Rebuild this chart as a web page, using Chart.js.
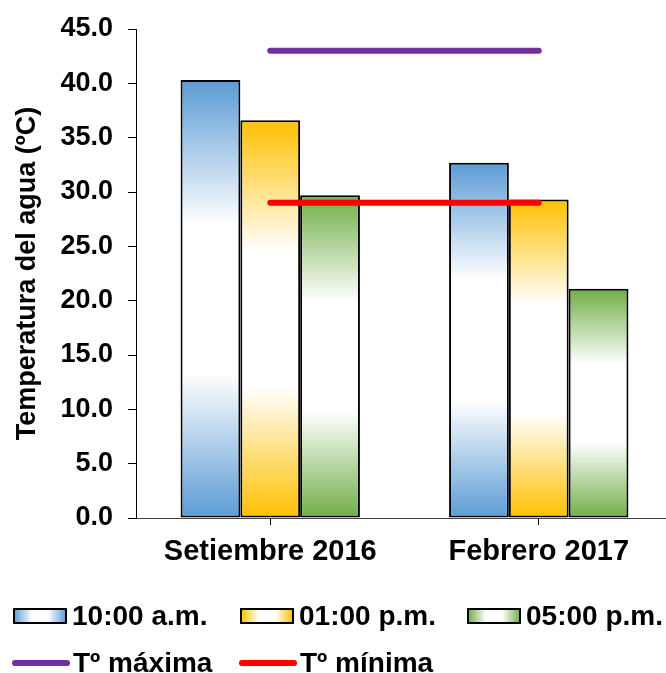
<!DOCTYPE html>
<html>
<head>
<meta charset="utf-8">
<script src="https://cdn.jsdelivr.net/npm/chart.js@4/dist/chart.umd.min.js"></script>
<style>
  html, body { margin: 0; padding: 0; background: #fff; overflow: hidden; }
  #wrap { width: 666px; height: 673px; overflow: hidden; }
  canvas { display: block; }
</style>
</head>
<body>
<div id="wrap"><canvas id="chart" width="673" height="673"></canvas></div>
<script>
// Water temperature by sampling time, with the max / min reference temperatures
const categories = ['Setiembre 2016', 'Febrero 2017'];
const seriesLabels = ['10:00 a.m.', '01:00 p.m.', '05:00 p.m.'];
const temp1000 = [40.3, 32.7];
const temp0100 = [36.6, 29.3];
const temp0500 = [29.7, 21.1];
const lineLabels = ['T\u00ba m\u00e1xima', 'T\u00ba m\u00ednima'];
const tMax = [43.0, 43.0];
const tMin = [29.0, 29.0];
const yMin = 0, yMax = 45, yStep = 5;

const BLUE = '#5b9bd5', ORANGE = '#ffc000', GREEN = '#70ad47';
const PURPLE = '#7030a0', RED = '#ff0000';
const FONT = '"Liberation Sans", Arial, sans-serif';

// vertical gradient per bar: colour at both ends, white band in the middle
function barGradient(color) {
  return (ctx) => {
    const chart = ctx.chart;
    if (!chart.chartArea || ctx.type !== 'data' || !chart.scales.y) return color;
    const y = chart.scales.y;
    const top = y.getPixelForValue(ctx.raw);
    const base = y.getPixelForValue(0);
    if (!isFinite(top) || !isFinite(base) || base - top < 1) return color;
    const g = chart.ctx.createLinearGradient(0, top, 0, base);
    g.addColorStop(0, color);
    g.addColorStop(0.33, '#ffffff');
    g.addColorStop(0.67, '#ffffff');
    g.addColorStop(1, color);
    return g;
  };
}

// two-row legend laid out in columns
const columnLegend = {
  id: 'columnLegend',
  afterDraw(chart) {
    const c = chart.ctx;
    const items = chart.data.datasets;
    const cols = [14, 241, 468];
    c.save();
    c.font = 'bold 28px ' + FONT;
    c.fillStyle = '#000';
    c.textBaseline = 'middle';
    let bi = 0, li = 0;
    items.forEach(ds => {
      if (ds.type === 'line') {
        const x = cols[li] - 1, y = 663;
        c.beginPath();
        c.lineWidth = 6;
        c.lineCap = 'round';
        c.strokeStyle = ds.borderColor;
        c.moveTo(x + 2, y);
        c.lineTo(x + 54, y);
        c.stroke();
        c.fillStyle = '#000';
        c.textAlign = 'left';
        c.fillText(ds.label, x + 60, y + 1);
        li++;
      } else {
        const x = cols[bi], y = 609, w = 52, h = 14;
        const g = c.createLinearGradient(x, 0, x + w, 0);
        g.addColorStop(0, ds.baseColor);
        g.addColorStop(0.35, '#ffffff');
        g.addColorStop(0.65, '#ffffff');
        g.addColorStop(1, ds.baseColor);
        c.fillStyle = g;
        c.fillRect(x, y, w, h);
        c.lineWidth = 2;
        c.strokeStyle = '#000';
        c.strokeRect(x, y, w, h);
        c.fillStyle = '#000';
        c.textAlign = 'left';
        c.fillText(ds.label, x + 58, y + 8);
        bi++;
      }
    });
    c.restore();
  }
};

function barSet(label, data, color) {
  return {
    type: 'bar', label, data, baseColor: color,
    backgroundColor: barGradient(color),
    borderColor: '#000', borderWidth: 2, borderSkipped: false,
    barPercentage: 1.0, categoryPercentage: 0.668, order: 1
  };
}
function lineSet(label, data, color) {
  return {
    type: 'line', label, data, borderColor: color, backgroundColor: color,
    borderWidth: 6, borderCapStyle: 'round', pointRadius: 0, pointHoverRadius: 0,
    fill: false, tension: 0, order: 0
  };
}

new Chart(document.getElementById('chart'), {
  data: {
    labels: categories,
    datasets: [
      barSet(seriesLabels[0], temp1000, BLUE),
      barSet(seriesLabels[1], temp0100, ORANGE),
      barSet(seriesLabels[2], temp0500, GREEN),
      lineSet(lineLabels[0], tMax, PURPLE),
      lineSet(lineLabels[1], tMin, RED)
    ]
  },
  options: {
    responsive: false,
    animation: false,
    devicePixelRatio: 1,
    layout: { padding: { left: 0, right: 0, top: 29, bottom: 0 } },
    plugins: { legend: { display: false }, tooltip: { enabled: false } },
    scales: {
      x: {
        type: 'category',
        offset: true,
        grid: { offset: false, drawOnChartArea: false, tickLength: 7, color: '#000' },
        border: { display: true, color: '#444', width: 1 },
        ticks: { color: '#000', padding: 10, maxRotation: 0, font: { family: FONT, size: 29, weight: 'bold' } },
        afterFit(scale) { scale.height = 155; scale.paddingLeft = 0; scale.paddingRight = 0; }
      },
      y: {
        min: yMin, max: yMax,
        grid: { drawOnChartArea: false, tickLength: 8, color: '#000' },
        border: { display: true, color: '#000', width: 1 },
        ticks: {
          stepSize: yStep, color: '#000', padding: 15,
          font: { family: FONT, size: 27, weight: 'bold' },
          callback: v => Number(v).toFixed(1)
        },
        title: {
          display: true, text: 'Temperatura del agua (\u00baC)', color: '#000',
          font: { family: FONT, size: 27, weight: 'bold' },
          padding: { top: 11, bottom: 0 }
        },
        afterFit(scale) { scale.width = 136; scale.paddingTop = 0; scale.paddingBottom = 0; }
      }
    }
  },
  plugins: [columnLegend]
});
</script>
</body>
</html>
